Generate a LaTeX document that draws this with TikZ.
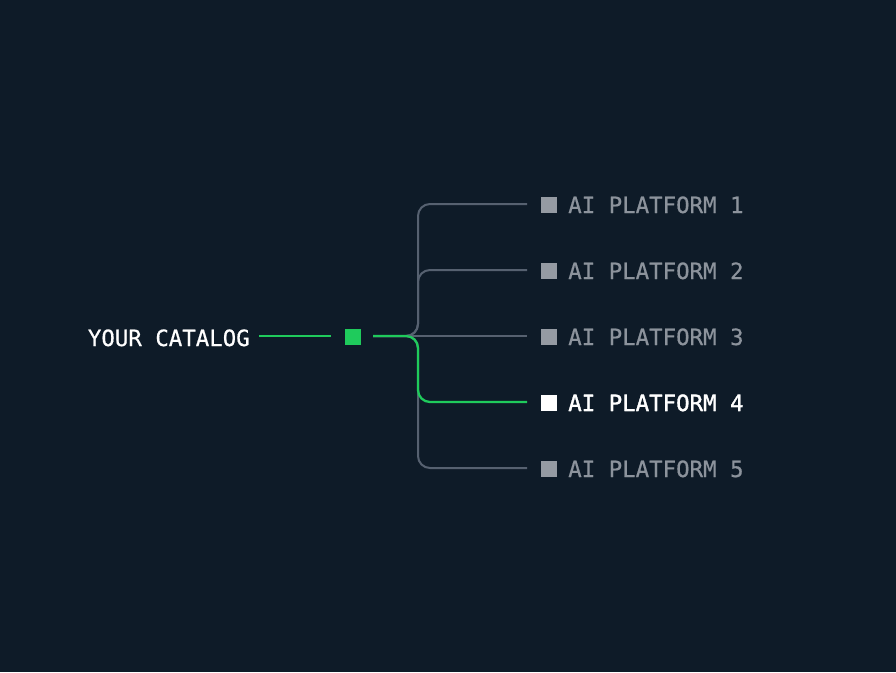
\documentclass[tikz,border=0pt]{standalone}
\usepackage{fontspec}
\setmonofont[FakeBold=0.6]{DejaVu Sans Mono}
\definecolor{bg}{HTML}{0E1B28}
\definecolor{grn}{HTML}{1FCB5C}
\definecolor{gline}{HTML}{566170}
\definecolor{gtext}{HTML}{8C939C}
\definecolor{gsq}{HTML}{959BA3}
\begin{document}
\begin{tikzpicture}[x=0.75pt,y=-0.75pt,
  lbl/.style={font=\ttfamily\fontsize{16.8}{18}\selectfont, inner sep=0pt},
  sq/.style={minimum size=12pt, inner sep=0pt, outer sep=0pt},
  gl/.style={draw=gline, line width=1.5pt, rounded corners=9pt},
  gn/.style={draw=grn, line width=1.7pt, rounded corners=9pt}]
\fill[bg] (0,0) rectangle (896,672);
\useasboundingbox (0,0) rectangle (896,672);
\node[lbl, text=white, anchor=base east] (cat) at (250,346) {YOUR CATALOG};
\node[sq, fill=grn] (hub) at (352.5,336.5) {};
\coordinate (c1) at (259,336);
\coordinate (c2) at (331,336);
\coordinate (s) at (373,336);
\foreach \i/\y in {1/204,2/270,3/336,4/402,5/468}{
  \coordinate (e\i) at (527,\y);
  \node[sq, fill=gsq] (sq\i) at (548.5,\y+1) {};
  \node[lbl, text=gtext, anchor=base west] (t\i) at (568,\y+9) {AI PLATFORM \i};
}
\node[sq, fill=white] at (sq4) {};
\node[lbl, text=white, anchor=base west] at (t4.base west) {AI PLATFORM 4};
\foreach \i in {1,2,5}{
  \draw[gl] (s) -- (418,336) -- (418,\i*66+138) -- (e\i);
}
\draw[gl] (s) -- (e3);
\draw[gn] (c1) -- (c2);
\draw[gn] (s) -- (418,336) -- (418,402) -- (e4);
\end{tikzpicture}
\end{document}
